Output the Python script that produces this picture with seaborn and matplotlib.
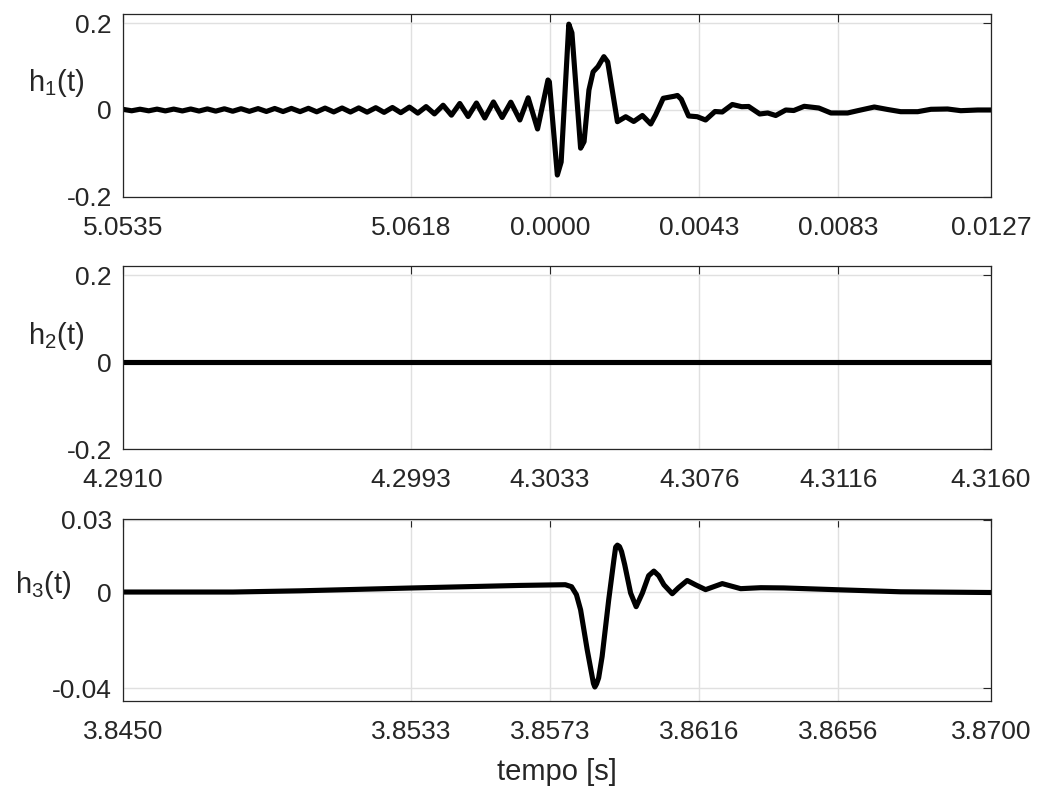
import matplotlib
matplotlib.use("Agg")
import matplotlib.pyplot as plt
import numpy as np
import pandas as pd
import seaborn as sns

# Time offsets within each 25 ms window (ms) and tick labels for each panel
tick_offsets_ms = [0.0, 8.3, 12.3, 16.6, 20.6, 25.0]
xticklabels_h1 = ["5.0535", "5.0618", "0.0000", "0.0043", "0.0083", "0.0127"]
xticklabels_h2 = ["4.2910", "4.2993", "4.3033", "4.3076", "4.3116", "4.3160"]
xticklabels_h3 = ["3.8450", "3.8533", "3.8573", "3.8616", "3.8656", "3.8700"]

# h1(t)
t_h1 = [0.00, 0.25, 0.49, 0.74, 0.98, 1.22, 1.46, 1.71, 1.95, 2.19, 2.43, 2.67,
        2.92, 3.16, 3.40, 3.64, 3.89, 4.13, 4.37, 4.61, 4.85, 5.10, 5.34, 5.58,
        5.82, 6.07, 6.31, 6.55, 6.79, 7.03, 7.28, 7.52, 7.76, 8.00, 8.25, 8.49,
        8.73, 8.97, 9.22, 9.46, 9.70, 9.94, 10.18, 10.42, 10.67, 10.92, 11.17,
        11.43, 11.67, 11.94, 12.24, 12.28, 12.51, 12.62, 12.84, 12.93, 13.18,
        13.28, 13.42, 13.54, 13.68, 13.85, 13.96, 14.24, 14.48, 14.71, 14.96,
        15.20, 15.34, 15.56, 15.87, 15.97, 16.08, 16.29, 16.54, 16.78, 17.05,
        17.26, 17.55, 17.82, 18.02, 18.34, 18.57, 18.80, 19.09, 19.32, 19.62,
        20.04, 20.39, 20.87, 21.16, 21.64, 22.02, 22.40, 22.89, 23.27, 23.75,
        24.13, 24.62, 25.00]
h1 = [0.0015, -0.0018, 0.0018, -0.0019, 0.0020, -0.0021, 0.0021, -0.0022,
      0.0023, -0.0024, 0.0025, -0.0026, 0.0028, -0.0029, 0.0030, -0.0031,
      0.0032, -0.0034, 0.0035, -0.0036, 0.0037, -0.0038, 0.0039, -0.0042,
      0.0044, -0.0045, 0.0046, -0.0047, 0.0048, -0.0050, 0.0053, -0.0055,
      0.0058, -0.0062, 0.0067, -0.0072, 0.0078, -0.0090, 0.0110, -0.0120,
      0.0150, -0.0150, 0.0161, -0.0185, 0.0185, -0.0173, 0.0180, -0.0231,
      0.0281, -0.0438, 0.0692, 0.0653, -0.150, -0.120, 0.198, 0.178, -0.088,
      -0.073, 0.046, 0.088, 0.100, 0.123, 0.111, -0.027, -0.0155, -0.0265,
      -0.0127, -0.0323, -0.0115, 0.027, 0.0316, 0.0335, 0.0247, -0.0138,
      -0.0155, -0.0231, -0.0035, -0.0046, 0.0127, 0.0076, 0.0081, -0.0092,
      -0.0069, -0.0127, 0.0, -0.0012, 0.0085, 0.0046, -0.0069, -0.0069,
      -0.0016, 0.0069, 0.0012, -0.0039, -0.0039, 0.0016, 0.0023, -0.0016,
      0.0, 0.0]

# h2(t)
t_h2 = [0.0, 25.0]
h2 = [0.0, 0.0]

# h3(t)
t_h3 = [0.00, 3.17, 5.10, 8.36, 11.45, 12.74, 12.92, 13.06, 13.18, 13.37,
        13.51, 13.55, 13.59, 13.64, 13.70, 13.80, 13.99, 14.14, 14.19, 14.24,
        14.30, 14.36, 14.45, 14.62, 14.78, 14.96, 15.14, 15.29, 15.43, 15.58,
        15.82, 16.00, 16.25, 16.49, 16.78, 17.01, 17.26, 17.79, 18.37, 19.03,
        20.47, 22.40, 25.00]
h3 = [0.0, 0.0, 0.0005, 0.0017, 0.00275, 0.00304, 0.0022, -0.0011, -0.0074,
      -0.0240, -0.0349, -0.0380, -0.0395, -0.0382, -0.0357, -0.0268, -0.0032,
      0.0135, 0.0187, 0.0195, 0.0189, 0.0168, 0.0114, -0.0004, -0.0061,
      -0.0004, 0.0068, 0.0087, 0.0068, 0.0030, -0.0007, 0.0018, 0.0048,
      0.0030, 0.0010, 0.0022, 0.0035, 0.0014, 0.0018, 0.0017, 0.0010, 0.0001,
      -0.0002]

panels = [
    dict(t=t_h1, v=h1, labels=xticklabels_h1, ylim=(-0.2, 0.2215),
         yticks=[-0.2, 0, 0.2], yticklabels=["-0.2", "0", "0.2"],
         ylabel=r"$\mathregular{h_1(t)}$", pos=[0.1185, 0.7507, 0.8362, 0.2316],
         lab=(-0.044, 0.62)),
    dict(t=t_h2, v=h2, labels=xticklabels_h2, ylim=(-0.2, 0.2215),
         yticks=[-0.2, 0, 0.2], yticklabels=["-0.2", "0", "0.2"],
         ylabel=r"$\mathregular{h_2(t)}$", pos=[0.1185, 0.4309, 0.8362, 0.2319],
         lab=(-0.044, 0.617)),
    dict(t=t_h3, v=h3, labels=xticklabels_h3, ylim=(-0.0452, 0.0305),
         yticks=[-0.04, 0, 0.03], yticklabels=["-0.04", "0", "0.03"],
         ylabel=r"$\mathregular{h_3(t)}$", pos=[0.1185, 0.1119, 0.8362, 0.2307],
         lab=(-0.059, 0.633)),
]

sns.set_theme(style="white")
plt.rcParams["font.family"] = ["Liberation Sans", "DejaVu Sans"]
plt.rcParams["mathtext.fontset"] = "custom"
plt.rcParams["mathtext.rm"] = "Liberation Sans"
plt.rcParams["mathtext.it"] = "Liberation Sans"
plt.rcParams["axes.unicode_minus"] = False

FS = 19
LFS = 21
INK = "#262626"

fig = plt.figure(figsize=(10.38, 7.89), dpi=100)
axes = []
for p in panels:
    ax = fig.add_axes(p["pos"])
    df = pd.DataFrame({"t": p["t"], "v": p["v"]})
    sns.lineplot(data=df, x="t", y="v", ax=ax, color="black", linewidth=3.7,
                 sort=False, estimator=None)
    ax.set_xlim(0, 25)
    ax.set_ylim(*p["ylim"])
    ax.set_xticks(tick_offsets_ms)
    ax.set_xticklabels(p["labels"])
    ax.set_yticks(p["yticks"])
    ax.set_yticklabels(p["yticklabels"])
    ax.grid(True, color="#e0e0e0", linewidth=1.0)
    ax.set_axisbelow(True)
    ax.tick_params(direction="in", length=6, width=0.8, top=True, right=True,
                   colors=INK, labelsize=FS)
    ax.tick_params(axis="x", pad=14)
    ax.tick_params(axis="y", pad=8)
    for s in ax.spines.values():
        s.set_color(INK)
        s.set_linewidth(0.9)
    ax.set_xlabel("")
    ax.set_ylabel(p["ylabel"], rotation=0, fontsize=LFS, color=INK,
                  ha="right", va="center")
    ax.yaxis.set_label_coords(*p["lab"])
    axes.append(ax)

axes[-1].set_xlabel("tempo [s]", fontsize=LFS, color=INK, labelpad=10)

fig.savefig("out.png", dpi=100)
